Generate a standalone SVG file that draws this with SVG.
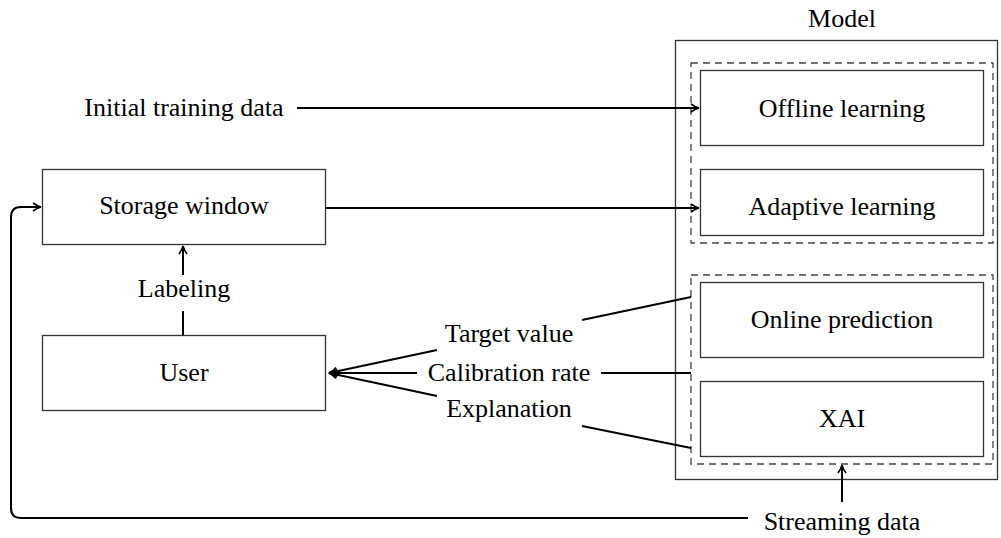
<svg xmlns="http://www.w3.org/2000/svg" width="1001" height="538" viewBox="0 0 1001 538">
<style>
.t{font-family:"Liberation Serif","Times New Roman",serif;font-size:26px;fill:#000;text-anchor:middle}
.box{fill:#fff;stroke:#333;stroke-width:1.3}
.dash{fill:none;stroke:#444;stroke-width:1.3;stroke-dasharray:7,5}
.c{fill:none;stroke:#000;stroke-width:2}
</style>
<defs>
<marker id="ah" viewBox="0 0 10 10" refX="9" refY="5" markerWidth="10" markerHeight="10" markerUnits="userSpaceOnUse" orient="auto">
<path d="M1,1 Q5,4 9,5 Q5,6 1,9" fill="none" stroke="#000" stroke-width="1.6"/>
</marker>
</defs>
<rect width="1001" height="538" fill="#fff"/>
<g id="model">
<text class="t" x="842" y="27">Model</text>
<rect class="box" x="675.5" y="40.5" width="322" height="439" fill="none"/>
<rect class="dash" x="691" y="63" width="302" height="180"/>
<rect class="dash" x="691" y="275" width="302" height="189"/>
</g>
<g id="offline"><rect class="box" x="700.5" y="70.5" width="283" height="75"/><text class="t" x="842" y="117">Offline learning</text></g>
<g id="adaptive"><rect class="box" x="700.5" y="169.5" width="283" height="66"/><text class="t" x="842" y="215">Adaptive learning</text></g>
<g id="online"><rect class="box" x="700.5" y="282.5" width="283" height="75"/><text class="t" x="842" y="328">Online prediction</text></g>
<g id="xai"><rect class="box" x="700.5" y="381.5" width="283" height="75"/><text class="t" x="842" y="427">XAI</text></g>
<g id="storage"><rect class="box" x="42.5" y="169.5" width="283" height="75"/><text class="t" x="184" y="214">Storage window</text></g>
<g id="user"><rect class="box" x="42.5" y="335.5" width="283" height="75"/><text class="t" x="184" y="381">User</text></g>
<g id="connectors">
<path class="c" d="M297,108 H699" marker-end="url(#ah)"/>
<path class="c" d="M326,208 H699" marker-end="url(#ah)"/>
<path class="c" d="M183,311 V335"/>
<path class="c" d="M183,275 V246" marker-end="url(#ah)"/>
<path class="c" d="M691,297 L582,320"/>
<path class="c" d="M437,350 L329,373" marker-end="url(#ah)"/>
<path class="c" d="M601,373 H691"/>
<path class="c" d="M417,373 H329" marker-end="url(#ah)"/>
<path class="c" d="M582,426 L691,448"/>
<path class="c" d="M437,396 L329,373" marker-end="url(#ah)"/>
<path class="c" d="M842,502 V465" marker-end="url(#ah)"/>
<path class="c" d="M748,518 H21 Q11,518 11,508 V217 Q11,207 21,207 H41" marker-end="url(#ah)"/>
</g>
<g id="labels">
<text class="t" x="184" y="116">Initial training data</text>
<text class="t" x="184" y="297">Labeling</text>
<text class="t" x="509" y="342">Target value</text>
<text class="t" x="509" y="381">Calibration rate</text>
<text class="t" x="509" y="417">Explanation</text>
<text class="t" x="842" y="530">Streaming data</text>
</g>
</svg>
